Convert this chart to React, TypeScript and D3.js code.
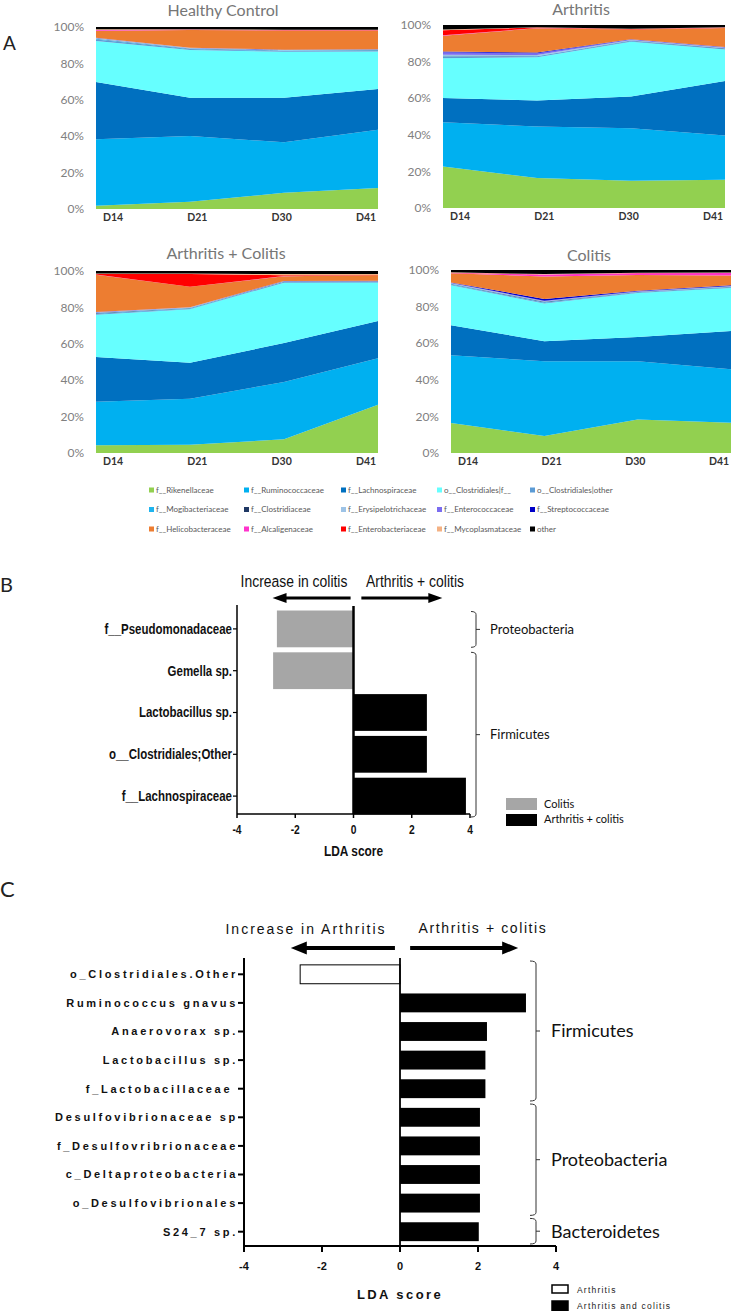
import React from 'react';
import * as d3 from 'd3';

// ---------- Panel A data ----------
const days = ['D14', 'D21', 'D30', 'D41'];
const taxa = [
  'f__Rikenellaceae', 'f__Ruminococcaceae', 'f__Lachnospiraceae', 'o__Clostridiales|f__', 'o__Clostridiales|other',
  'f__Mogibacteriaceae', 'f__Clostridiaceae', 'f__Erysipelotrichaceae', 'f__Enterococcaceae', 'f__Streptococcaceae',
  'f__Helicobacteraceae', 'f__Alcaligenaceae', 'f__Enterobacteriaceae', 'f__Mycoplasmataceae', 'other',
];
const taxaColors = [
  '#92D050', '#00B0F0', '#0070C0', '#66FFFF', '#5B9BD5',
  '#1FB4EE', '#1F3864', '#9DC3E6', '#7B6CF0', '#0000C8',
  '#ED7D31', '#FF33CC', '#FF0000', '#F4B183', '#000000',
];
const percentTicks = [0, 0.2, 0.4, 0.6, 0.8, 1];

// rows = taxa (same order), columns = days
const healthyControl = [
  [1.8, 4.0, 9.0, 11.5],
  [36.5, 36.7, 28.0, 32.0],
  [31.3, 21.2, 24.7, 22.5],
  [22.5, 26.6, 25.6, 20.5],
  [0.8, 0.5, 0.4, 0.5],
  [0.3, 0.2, 0.2, 0.2],
  [0.2, 0.2, 0.1, 0.1],
  [0.3, 0.2, 0.2, 0.3],
  [0.1, 0.1, 0.1, 0.1],
  [0.1, 0.1, 0.1, 0.1],
  [3.8, 9.9, 10.7, 10.3],
  [0.4, 0.1, 0.1, 0.1],
  [0.1, 0.1, 0.1, 0.1],
  [0.3, 0.2, 0.2, 0.2],
  [1.3, 1.2, 1.5, 1.5],
];
const arthritis = [
  [22.7, 16.4, 14.9, 15.5],
  [24.0, 28.1, 28.7, 24.5],
  [13.3, 14.2, 17.3, 30.0],
  [21.6, 23.7, 30.0, 17.3],
  [0.8, 0.5, 0.4, 0.5],
  [0.2, 0.1, 0.1, 0.1],
  [0.2, 0.1, 0.1, 0.1],
  [0.8, 0.5, 0.3, 0.3],
  [1.3, 1.0, 0.3, 0.3],
  [0.4, 0.4, 0.1, 0.1],
  [8.7, 13.2, 5.3, 10.5],
  [0.2, 0.1, 0.1, 0.1],
  [2.8, 0.3, 0.2, 0.1],
  [0.3, 0.2, 0.2, 0.2],
  [2.5, 1.2, 2.0, 1.2],
];
const arthritisColitis = [
  [4.2, 4.6, 7.5, 26.5],
  [24.0, 25.3, 31.5, 25.5],
  [24.5, 19.7, 21.4, 20.5],
  [23.3, 29.4, 33.2, 21.0],
  [0.5, 0.4, 0.3, 0.3],
  [0.2, 0.2, 0.1, 0.2],
  [0.2, 0.2, 0.1, 0.2],
  [0.3, 0.2, 0.2, 0.2],
  [0.2, 0.1, 0.1, 0.1],
  [0.1, 0.1, 0.1, 0.1],
  [20.5, 11.2, 2.6, 3.0],
  [0.1, 0.1, 0.1, 0.1],
  [0.3, 7.0, 0.5, 0.1],
  [0.2, 0.2, 0.6, 0.5],
  [1.4, 1.4, 1.7, 1.7],
];
const colitis = [
  [16.4, 9.3, 18.4, 16.6],
  [37.1, 40.9, 31.8, 29.6],
  [16.5, 10.9, 13.3, 21.0],
  [21.8, 20.7, 24.1, 23.7],
  [0.5, 0.4, 0.3, 0.4],
  [0.2, 0.2, 0.1, 0.2],
  [0.2, 0.3, 0.1, 0.1],
  [0.3, 0.3, 0.2, 0.2],
  [0.2, 0.3, 0.2, 0.2],
  [0.2, 1.0, 0.3, 0.4],
  [5.0, 12.3, 8.6, 5.4],
  [0.2, 1.0, 1.0, 1.3],
  [0.1, 0.1, 0.1, 0.1],
  [0.2, 0.2, 0.2, 0.2],
  [1.3, 2.2, 1.5, 1.4],
];

// ---------- Panel B data ----------
const bTaxa = ['f__Pseudomonadaceae', 'Gemella sp.', 'Lactobacillus sp.', 'o__Clostridiales;Other', 'f__Lachnospiraceae'];
const bScores = [-2.63, -2.76, 2.52, 2.52, 3.86];
const bGroups = ['Colitis', 'Colitis', 'Arthritis + colitis', 'Arthritis + colitis', 'Arthritis + colitis'];
const bLegend = ['Colitis', 'Arthritis + colitis'];
const bPhyla = ['Proteobacteria', 'Firmicutes'];
const bPhylaFirst = [0, 1];
const bPhylaLast = [0, 4];

// ---------- Panel C data ----------
const cTaxa = [
  'o_Clostridiales.Other', 'Ruminococcus gnavus', 'Anaerovorax sp.', 'Lactobacillus sp.', 'f_Lactobacillaceae ',
  'Desulfovibrionaceae sp', 'f_Desulfovribrionaceae', 'c_Deltaproteobacteria', 'o_Desulfovibrionales', 'S24_7 sp.',
];
const cScores = [-2.56, 3.23, 2.23, 2.19, 2.19, 2.05, 2.05, 2.05, 2.05, 2.02];
const cGroups = ['Arthritis', 'Arthritis and colitis', 'Arthritis and colitis', 'Arthritis and colitis', 'Arthritis and colitis',
  'Arthritis and colitis', 'Arthritis and colitis', 'Arthritis and colitis', 'Arthritis and colitis', 'Arthritis and colitis'];
const cLegend = ['Arthritis', 'Arthritis and colitis'];
const cPhyla = ['Firmicutes', 'Proteobacteria', 'Bacteroidetes'];
const cPhylaFirst = [0, 5, 9];
const cPhylaLast = [4, 8, 9];

const ldaTicks = [-4, -2, 0, 2, 4];

const CAL = 'Lato, "Open Sans", sans-serif';
const ARIAL = '"Liberation Sans", Arial, sans-serif';

// condensed text (Arial-Narrow look) via horizontal scaling
function NText({ x, y, children, size, bold = false, anchor = 'start', sx = 0.82, dy = '0' }: any) {
  return (
    <text transform={`translate(${x},${y}) scale(${sx},1)`} dy={dy} textAnchor={anchor}
      fontFamily={ARIAL} fontWeight={bold ? 'bold' : 'normal'} fontSize={size} fill="#111">{children}</text>
  );
}

function AreaPanel({ title, matrix, x0, x1, yTop, yBot, titleX, titleY }: any) {
  const rows = days.map((d, j) => {
    const r: any = { day: d };
    taxa.forEach((t, i) => { r[t] = matrix[i][j]; });
    return r;
  });
  const series = d3.stack().keys(taxa).offset(d3.stackOffsetExpand)(rows);
  const x = d3.scalePoint().domain(days).range([x0, x1]);
  const xl = d3.scalePoint().domain(days).range([x0 + 17, x1 - 12]);
  const y = d3.scaleLinear().domain([0, 1]).range([yBot, yTop]);
  const area = d3.area<any>()
    .x((d: any) => x(d.data.day) as number)
    .y0((d: any) => y(d[0]))
    .y1((d: any) => y(d[1]));
  const fmt = d3.format('.0%');
  return (
    <g>
      <text x={titleX} y={titleY} textAnchor="middle" fontFamily={CAL} fontSize={16} fill="#767676">{title}</text>
      {series.map((s, i) => (
        <path key={i} d={area(s as any) || ''} fill={taxaColors[i]} />
      ))}
      {percentTicks.map((t) => (
        <text key={t} x={x0 - 12} y={y(t)} dy="0.35em" textAnchor="end" fontFamily={CAL} fontSize={12} fill="#808080">{fmt(t)}</text>
      ))}
      {days.map((d) => (
        <text key={d} x={xl(d)} y={yBot + 12} textAnchor="middle" fontFamily={CAL} fontWeight="bold" fontSize={10.5} fill="#333">{d}</text>
      ))}
    </g>
  );
}

function brace(x: number, y0: number, y1: number, hook: number) {
  const ym = (y0 + y1) / 2;
  return `M${x - hook},${y0} Q${x},${y0} ${x},${y0 + 3} L${x},${y1 - 3} Q${x},${y1} ${x - hook},${y1} M${x},${ym} L${x + 4},${ym}`;
}

function arrow(xFrom: number, xTo: number, y: number, thick: number, headLen: number, headH: number) {
  const dir = xTo > xFrom ? 1 : -1;
  const xb = xTo - dir * headLen;
  return `M${xFrom},${y - thick / 2} L${xb},${y - thick / 2} L${xb},${y - headH / 2} L${xTo},${y} L${xb},${y + headH / 2} L${xb},${y + thick / 2} L${xFrom},${y + thick / 2} Z`;
}

function PanelB() {
  const x = d3.scaleLinear().domain([-4, 4]).range([237, 470]);
  const y = d3.scaleBand().domain(bTaxa).range([608, 817]).paddingInner(0.12).paddingOuter(0.06);
  const axisY = 814;
  const colorOf = (g: string) => (g === 'Colitis' ? '#a6a6a6' : '#000');
  return (
    <g>
      <text x={0} y={592} fontFamily={CAL} fontSize={20} fill="#222">B</text>
      <NText x={294} y={587} size={17} anchor="middle">Increase in colitis</NText>
      <NText x={415} y={587} size={17} anchor="middle">Arthritis + colitis</NText>
      <path d={arrow(x(-0.1), x(-2.78), 598, 3, 14, 10)} fill="#000" />
      <path d={arrow(x(0.27), x(3.05), 598, 3, 14, 10)} fill="#000" />
      {bTaxa.map((t, i) => {
        const v = bScores[i];
        return (
          <rect key={t} x={x(Math.min(0, v))} y={y(t)} width={Math.abs(x(v) - x(0))} height={y.bandwidth()} fill={colorOf(bGroups[i])} />
        );
      })}
      <line x1={x(0)} x2={x(0)} y1={606} y2={axisY} stroke="#000" strokeWidth={2.5} />
      <line x1={x(-4)} x2={x(-4)} y1={605} y2={axisY} stroke="#000" strokeWidth={1.5} />
      <line x1={x(-4)} x2={x(4)} y1={axisY} y2={axisY} stroke="#000" strokeWidth={1.5} />
      {ldaTicks.map((t) => (
        <g key={t}>
          <line x1={x(t)} x2={x(t)} y1={axisY} y2={axisY + 4} stroke="#000" strokeWidth={1.5} />
          <NText x={x(t)} y={834} size={12.5} bold anchor="middle">{t}</NText>
        </g>
      ))}
      {bTaxa.map((t) => (
        <g key={t}>
          <line x1={x(-4) - 4} x2={x(-4)} y1={(y(t) as number) + y.bandwidth() / 2} y2={(y(t) as number) + y.bandwidth() / 2} stroke="#000" strokeWidth={1.2} />
          <NText x={x(-4) - 5} y={(y(t) as number) + y.bandwidth() / 2} dy="0.35em" size={14} bold anchor="end">{t}</NText>
        </g>
      ))}
      <NText x={x(0)} y={856} size={14} bold anchor="middle" sx={0.85}>LDA score</NText>
      {bPhyla.map((p, k) => {
        const y0 = (y(bTaxa[bPhylaFirst[k]]) as number) + (k === 0 ? 1 : 0);
        const y1 = k === bPhyla.length - 1 ? 817 : (y(bTaxa[bPhylaLast[k]]) as number) + y.bandwidth();
        return (
          <g key={p}>
            <path d={brace(476, y0, y1, 5)} fill="none" stroke="#333" strokeWidth={1} />
            <text x={490} y={(y0 + y1) / 2} dy="0.35em" fontFamily={CAL} fontSize={13} fill="#111">{p}</text>
          </g>
        );
      })}
      {bLegend.map((g, i) => (
        <g key={g}>
          <rect x={506} y={798 + i * 16} width={31} height={12} fill={colorOf(g)} />
          <text x={544} y={804 + i * 15} dy="0.35em" fontFamily={CAL} fontSize={11} fill="#111">{g}</text>
        </g>
      ))}
    </g>
  );
}

function PanelC() {
  const x = d3.scaleLinear().domain([-4, 4]).range([244, 556]);
  const y = d3.scaleBand().domain(cTaxa).range([960, 1246]).paddingInner(0.34).paddingOuter(0.17);
  const axisY = 1246;
  return (
    <g>
      <text x={0} y={897} fontFamily={CAL} fontSize={22} fill="#222">C</text>
      <text x={306} y={934} textAnchor="middle" fontFamily={ARIAL} fontSize={14} letterSpacing={2} fill="#111">Increase in Arthritis</text>
      <text x={483} y={933} textAnchor="middle" fontFamily={ARIAL} fontSize={14} letterSpacing={1.6} fill="#111">Arthritis + colitis</text>
      <path d={arrow(x(-0.13), x(-2.8), 948, 4, 16, 13)} fill="#000" />
      <path d={arrow(x(0.26), x(3.03), 948, 4, 16, 13)} fill="#000" />
      {cTaxa.map((t, i) => {
        const v = cScores[i];
        const isA = cGroups[i] === 'Arthritis';
        return (
          <rect key={t} x={x(Math.min(0, v))} y={y(t)} width={Math.abs(x(v) - x(0))} height={y.bandwidth()}
            fill={isA ? '#fff' : '#000'} stroke="#000" strokeWidth={isA ? 1 : 0} />
        );
      })}
      <line x1={x(0)} x2={x(0)} y1={958} y2={axisY} stroke="#000" strokeWidth={1.8} />
      <line x1={x(-4)} x2={x(-4)} y1={958} y2={axisY} stroke="#000" strokeWidth={2} />
      <line x1={x(-4)} x2={x(4)} y1={axisY} y2={axisY} stroke="#000" strokeWidth={2} />
      {ldaTicks.map((t) => (
        <g key={t}>
          <line x1={x(t)} x2={x(t)} y1={axisY} y2={axisY + 6} stroke="#000" strokeWidth={2} />
          <text x={x(t)} y={1270} textAnchor="middle" fontFamily={ARIAL} fontWeight="bold" fontSize={11} fill="#111">{t}</text>
        </g>
      ))}
      {cTaxa.map((t) => {
        const yc = (y(t) as number) + y.bandwidth() / 2;
        return (
          <g key={t}>
            <line x1={x(-4) - 6} x2={x(-4)} y1={yc} y2={yc} stroke="#000" strokeWidth={2} />
            <text x={x(-4) - 6} y={yc} dy="0.35em" textAnchor="end" fontFamily={ARIAL} fontWeight="bold" fontSize={11} letterSpacing={2.7} fill="#111" style={{ whiteSpace: 'pre' }}>{t}</text>
          </g>
        );
      })}
      <text x={x(0)} y={1299} textAnchor="middle" fontFamily={ARIAL} fontWeight="bold" fontSize={13} letterSpacing={2.4} fill="#111">LDA score</text>
      {cPhyla.map((p, k) => {
        const step = y.step();
        const y0 = (y(cTaxa[cPhylaFirst[k]]) as number) + y.bandwidth() / 2 - step / 2 + 1;
        const y1 = (y(cTaxa[cPhylaLast[k]]) as number) + y.bandwidth() / 2 + step / 2 - 2;
        return (
          <g key={p}>
            <path d={brace(536, y0, y1, 6)} fill="none" stroke="#333" strokeWidth={1} />
            <text x={551} y={(y0 + y1) / 2} dy="0.35em" fontFamily={CAL} fontSize={18} fill="#111">{p}</text>
          </g>
        );
      })}
      {cLegend.map((g, i) => (
        <g key={g}>
          <rect x={552} y={1285 + i * 16} width={16} height={i === 0 ? 8 : 11} fill={i === 0 ? '#fff' : '#000'} stroke="#000" strokeWidth={1.5} />
          <text x={577} y={1290 + i * 16} dy="0.35em" fontFamily={ARIAL} fontSize={8.5} letterSpacing={1.2} fill="#222">{g}</text>
        </g>
      ))}
    </g>
  );
}

export default function App() {
  const legendCols = [149, 244, 341, 437, 530];
  const legendRows = [490, 509.5, 529];
  return (
    <svg width={732} height={1311} style={{ position: 'absolute', left: 0, top: 0, background: '#fff' }}>
      <rect x={0} y={0} width={732} height={1311} fill="#fff" />
      <text x={3} y={50} fontFamily={CAL} fontSize={19} fill="#222">A</text>
      <AreaPanel title="Healthy Control" matrix={healthyControl} x0={96} x1={378} yTop={27} yBot={209} titleX={223} titleY={16} />
      <AreaPanel title="Arthritis" matrix={arthritis} x0={443} x1={725} yTop={25} yBot={208} titleX={581} titleY={15} />
      <AreaPanel title="Arthritis + Colitis" matrix={arthritisColitis} x0={96} x1={378} yTop={271} yBot={453} titleX={226} titleY={259} />
      <AreaPanel title="Colitis" matrix={colitis} x0={451} x1={731} yTop={270} yBot={453} titleX={589} titleY={261} />
      {taxa.map((t, i) => {
        const cx = legendCols[i % 5];
        const cy = legendRows[Math.floor(i / 5)];
        return (
          <g key={t}>
            <rect x={cx} y={cy - 2.5} width={5} height={5} fill={taxaColors[i]} />
            <text x={cx + 7} y={cy} dy="0.35em" fontFamily={CAL} fontSize={8} fill="#595959">{t}</text>
          </g>
        );
      })}
      <PanelB />
      <PanelC />
    </svg>
  );
}
